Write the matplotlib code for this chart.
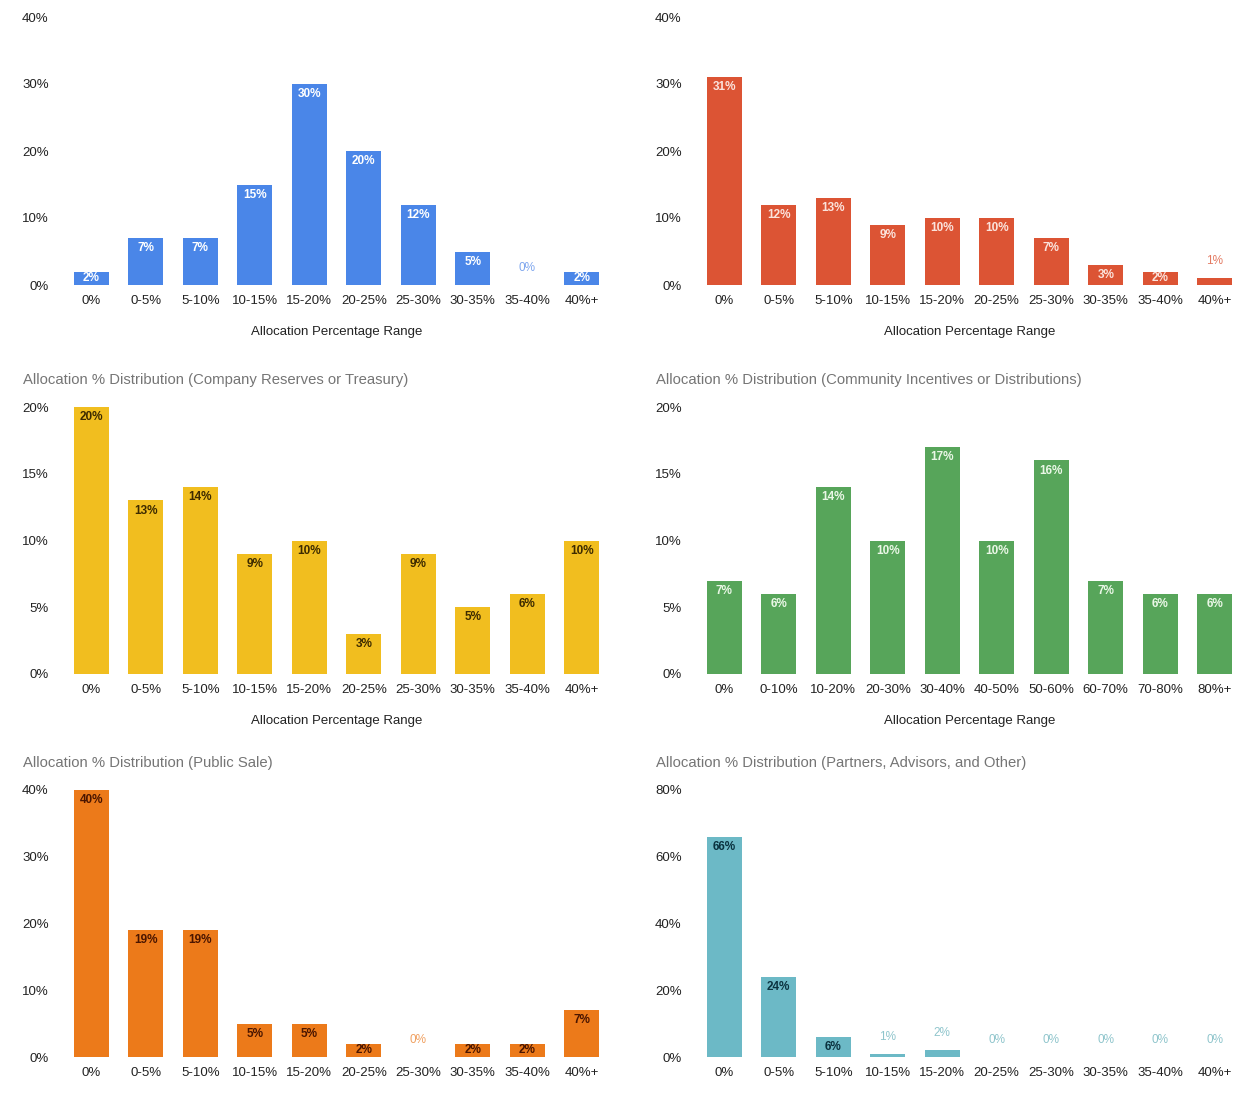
import matplotlib
matplotlib.use("Agg")
import matplotlib.pyplot as plt
from matplotlib.ticker import FuncFormatter

plt.rcParams['font.family'] = ['Liberation Sans', 'DejaVu Sans']

# rangos del eje x
rangos_5 = ["0%", "0-5%", "5-10%", "10-15%", "15-20%", "20-25%",
            "25-30%", "30-35%", "35-40%", "40%+"]
rangos_10 = ["0%", "0-10%", "10-20%", "20-30%", "30-40%", "40-50%",
             "50-60%", "60-70%", "70-80%", "80%+"]

# valores por panel (%)
team_vals = [2, 7, 7, 15, 30, 20, 12, 5, 0, 2]
investors_vals = [31, 12, 13, 9, 10, 10, 7, 3, 2, 1]
treasury_vals = [20, 13, 14, 9, 10, 3, 9, 5, 6, 10]
community_vals = [7, 6, 14, 10, 17, 10, 16, 7, 6, 6]
public_vals = [40, 19, 19, 5, 5, 2, 0, 2, 2, 7]
partners_vals = [66, 24, 6, 1, 2, 0, 0, 0, 0, 0]

titulos = [None, None,
           "Allocation % Distribution (Company Reserves or Treasury)",
           "Allocation % Distribution (Community Incentives or Distributions)",
           "Allocation % Distribution (Public Sale)",
           "Allocation % Distribution (Partners, Advisors, and Other)"]

paneles = [
    (team_vals, rangos_5, 40, 10, "#4a86e8", "#ffffff", "#7ea6ee", True),
    (investors_vals, rangos_5, 40, 10, "#dc5434", "#fbe3dc", "#e37a62", True),
    (treasury_vals, rangos_5, 20, 5, "#f1be1f", "#3d2b00", "#e0b030", True),
    (community_vals, rangos_10, 20, 5, "#57a55a", "#eaf7e6", "#7db97f", True),
    (public_vals, rangos_5, 40, 10, "#ec7a1a", "#4a1500", "#f0a060", False),
    (partners_vals, rangos_5, 80, 20, "#6cb9c6", "#0b3340", "#8fc5cc", False),
]

fig = plt.figure(figsize=(12.6, 10.94), dpi=100)
H = 1094.0
filas = [(285, 17), (674, 407), (1057, 790)]
cols = [(64, 609), (697, 1242)]
titulo_y = [None, 380, 763]

for i, (vals, cats, ymax, paso, color, c_in, c_out, xlab) in enumerate(paneles):
    fila, col = i // 2, i % 2
    y0, y1 = filas[fila]
    x0, x1 = cols[col]
    ax = fig.add_axes([x0 / 1260, 1 - y0 / H, (x1 - x0) / 1260, (y0 - y1) / H])
    xs = range(len(vals))
    ax.bar(xs, vals, width=0.64, color=color, zorder=2)
    ax.set_xlim(-0.5, len(vals) - 0.5)
    ax.set_ylim(0, ymax)
    ax.set_yticks(range(0, ymax + 1, paso))
    ax.yaxis.set_major_formatter(FuncFormatter(lambda v, p: f"{int(v)}%"))
    ax.set_xticks(list(xs))
    ax.set_xticklabels(cats)
    ax.tick_params(axis='both', length=0, labelsize=9.5, colors="#222222")
    ax.tick_params(axis='y', pad=11)
    ax.tick_params(axis='x', pad=7)
    for s in ax.spines.values():
        s.set_visible(False)
    # etiquetas de datos
    for x, v in zip(xs, vals):
        altura_px = v / ymax * (y0 - y1)
        if altura_px >= 22:
            ax.annotate(f"{v}%", (x, v), xytext=(0, -3), textcoords="offset points",
                        ha="center", va="top", fontsize=8.5, color=c_in, fontweight="bold")
        elif altura_px >= 10:
            ax.annotate(f"{v}%", (x, v / 2), ha="center", va="center",
                        fontsize=8.5, color=c_in, fontweight="bold")
        else:
            ax.annotate(f"{v}%", (x, v), xytext=(0, 8), textcoords="offset points",
                        ha="center", va="bottom", fontsize=8.5, color=c_out)
    if xlab:
        ax.set_xlabel("Allocation Percentage Range", fontsize=9.5, color="#222222", labelpad=14)
    if titulos[i]:
        fig.text((x0 - 41) / 1260, 1 - titulo_y[fila] / H, titulos[i], fontsize=10.7,
                 color="#757575", ha="left", va="center")

fig.savefig("out.png", dpi=100, facecolor="white")
